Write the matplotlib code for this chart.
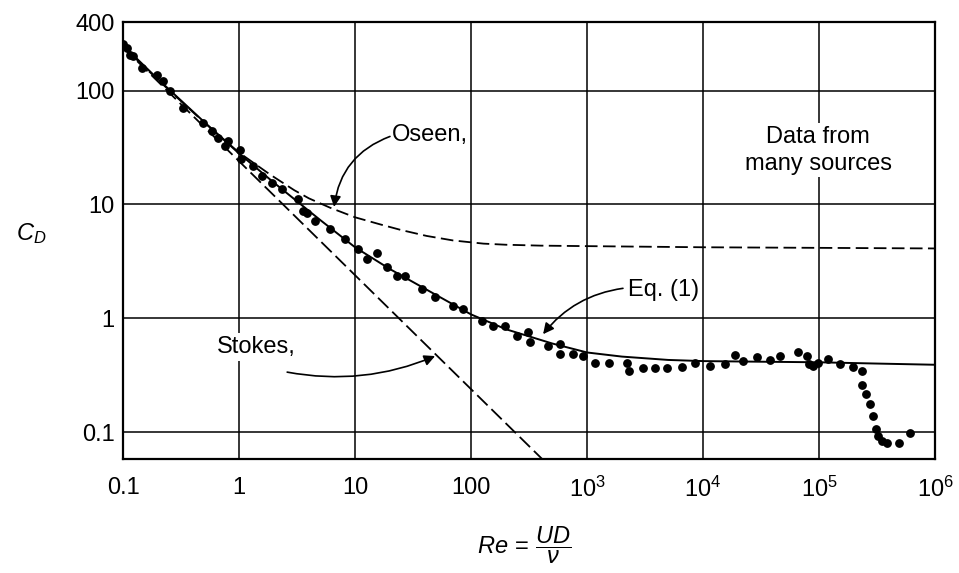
import matplotlib
matplotlib.use('Agg')
import matplotlib.pyplot as plt
import matplotlib.ticker as mticker

plt.rcParams['font.family'] = ['Liberation Sans', 'DejaVu Sans']
plt.rcParams['mathtext.fontset'] = 'custom'
plt.rcParams['mathtext.rm'] = 'Liberation Sans'
plt.rcParams['mathtext.it'] = 'Liberation Sans:italic'
plt.rcParams['mathtext.bf'] = 'Liberation Sans:bold'

re_pts = [0.1, 0.108, 0.115, 0.123, 0.145, 0.195, 0.222, 0.254, 0.331, 0.492,
          0.582, 0.664, 0.757, 0.81, 1.02, 1.05, 1.33, 1.57, 1.91, 2.33,
          3.24, 3.58, 3.83, 4.52, 6.09, 8.2, 10.7, 12.6, 15.4, 18.8,
          22.9, 27, 37.6, 49, 70.4, 85.8, 124, 156, 196, 248,
          312, 323, 464, 585, 585, 762, 929, 1173, 1556, 2197,
          2300, 3020, 3855, 4860, 6550, 8530, 11500, 15500, 18900, 22300,
          29000, 37800, 46200, 66400, 78400, 82600, 89400, 98700, 120000, 152000,
          195000, 236000, 236000, 254000, 275000, 290000, 310000, 324000, 347000, 388000,
          493000, 608000]
cd_pts = [255, 237, 207, 200, 158, 138, 121, 98.6, 70.5, 52,
          44, 38.5, 32.4, 35.9, 30.3, 24.8, 21.7, 17.7, 15.5, 13.6,
          11.1, 8.73, 8.46, 7.14, 6.04, 4.93, 4.03, 3.29, 3.77, 2.79,
          2.35, 2.35, 1.80, 1.55, 1.28, 1.2, 0.947, 0.857, 0.857, 0.70,
          0.75, 0.612, 0.571, 0.591, 0.483, 0.483, 0.467, 0.408, 0.408, 0.408,
          0.345, 0.362, 0.362, 0.362, 0.369, 0.408, 0.382, 0.394, 0.473, 0.423,
          0.452, 0.431, 0.461, 0.506, 0.467, 0.394, 0.382, 0.408, 0.436, 0.394,
          0.369, 0.345, 0.258, 0.215, 0.176, 0.137, 0.106, 0.0916, 0.084, 0.080,
          0.080, 0.098]

# Eq. (1) curve
eq_re = [0.1, 0.2, 0.5, 1, 2, 5, 10, 20, 50, 100,
         200, 500, 1e3, 2e3, 5e3, 1e4, 3e4, 1e5, 3e5, 1e6]
eq_cd = [250, 126, 53, 28, 15.5, 7.3, 4.2, 2.7, 1.6, 1.08,
         0.80, 0.60, 0.50, 0.46, 0.43, 0.42, 0.415, 0.41, 0.40, 0.39]

# Oseen curve
oseen_re = [0.1, 0.2, 0.5, 1, 1.85, 3, 4, 6.09, 10, 16.4,
            25, 41.5, 70, 128, 200, 400, 929, 1e4, 1e5, 1e6]
oseen_cd = [244, 124, 52.5, 28.5, 18.3, 13.3, 11.3, 9.35, 7.7, 6.68,
            5.95, 5.28, 4.82, 4.52, 4.42, 4.34, 4.3, 4.2, 4.15, 4.1]

# Stokes line
stokes_re = [0.1, 410]
stokes_cd = [240, 0.058]

x_ticks = [0.1, 1, 10, 100, 1e3, 1e4, 1e5, 1e6]
x_labels = ['0.1', '1', '10', '100', r'$10^3$', r'$10^4$', r'$10^5$', r'$10^6$']
y_ticks = [0.1, 1, 10, 100, 400]
y_labels = ['0.1', '1', '10', '100', '400']

fig = plt.figure(figsize=(9.59, 5.73), dpi=100)
ax = fig.add_axes([0.1283, 0.199, 0.8467, 0.7626])
ax.set_xscale('log')
ax.set_yscale('log')
ax.set_xlim(0.1, 1e6)
ax.set_ylim(0.058, 400)

for xv in x_ticks:
    ax.axvline(xv, color='black', lw=1.1, zorder=1)
for yv in y_ticks[:-1]:
    ax.axhline(yv, color='black', lw=1.1, zorder=1)

ax.plot(eq_re, eq_cd, color='black', lw=1.4, zorder=3)
ax.plot(oseen_re, oseen_cd, color='black', lw=1.3, ls=(0, (7, 3)), zorder=3)
ax.plot(stokes_re, stokes_cd, color='black', lw=1.3, ls=(0, (8, 3)), zorder=3)
ax.plot(re_pts, cd_pts, 'o', color='black', ms=5.3, zorder=4)

ax.xaxis.set_major_locator(mticker.FixedLocator(x_ticks))
ax.xaxis.set_major_formatter(mticker.FixedFormatter(x_labels))
ax.xaxis.set_minor_locator(mticker.NullLocator())
ax.yaxis.set_major_locator(mticker.FixedLocator(y_ticks))
ax.yaxis.set_major_formatter(mticker.FixedFormatter(y_labels))
ax.yaxis.set_minor_locator(mticker.NullLocator())
ax.tick_params(axis='x', length=0, pad=13, labelsize=17)
ax.tick_params(axis='y', length=0, pad=6, labelsize=17)
for sp in ax.spines.values():
    sp.set_linewidth(1.6)

txt = dict(fontsize=17, color='black', zorder=5)
box = dict(facecolor='white', edgecolor='none', pad=2)
ax.text(20.8, 40.3, 'Oseen,', ha='left', va='center', **txt)
ax.text(98000, 29.8, 'Data from\nmany sources', ha='center', va='center',
        linespacing=1.25, bbox=box, **txt)
ax.text(2250, 1.76, 'Eq. (1)', ha='left', va='center', **txt)
ax.text(1.40, 0.557, 'Stokes,', ha='center', va='center', bbox=box, **txt)

arrow = dict(arrowstyle='-|>', color='black', lw=1.2, mutation_scale=16,
             shrinkA=0, shrinkB=0)
ax.annotate('', xy=(6.6, 9.5), xytext=(20, 39.5),
            arrowprops=dict(connectionstyle='arc3,rad=0.3', **arrow), zorder=5)
ax.annotate('', xy=(49, 0.465), xytext=(2.6, 0.336),
            arrowprops=dict(connectionstyle='arc3,rad=0.15', **arrow), zorder=5)
ax.annotate('', xy=(418, 0.724), xytext=(2040, 1.83),
            arrowprops=dict(connectionstyle='arc3,rad=0.2', **arrow), zorder=5)

fig.text(31 / 959, 1 - 234 / 573, r'$C_D$', fontsize=17, ha='center', va='center')
fig.text(524 / 959, 1 - 545 / 573, r'$Re\,=\,\dfrac{UD}{\nu}$', fontsize=17,
         ha='center', va='center')

fig.savefig('out.png', dpi=100, facecolor='white')
